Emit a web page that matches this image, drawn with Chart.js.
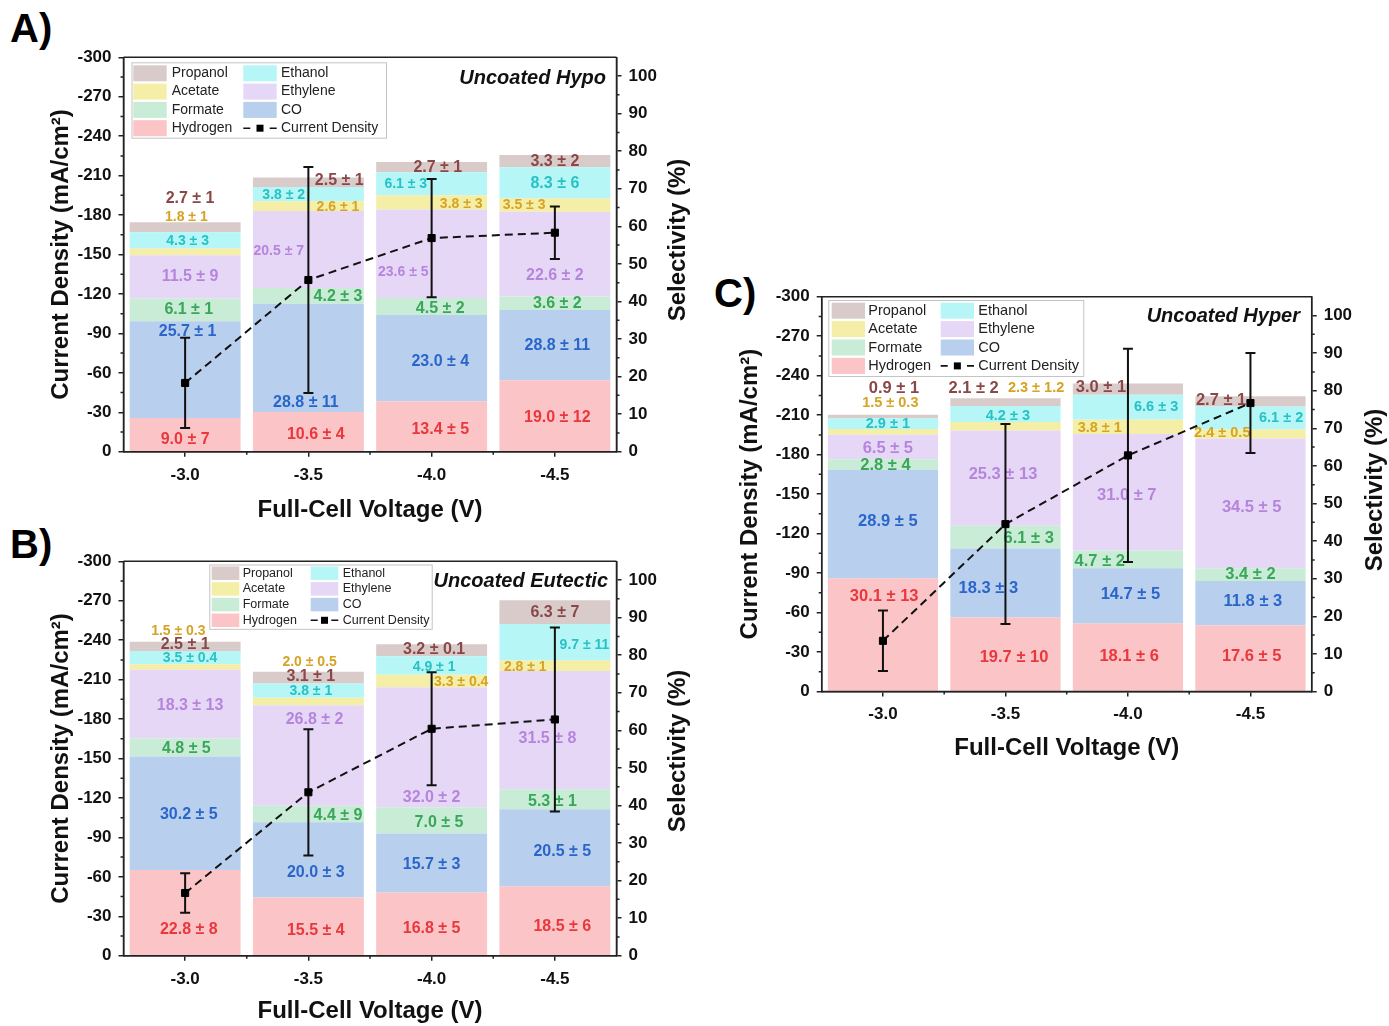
<!DOCTYPE html>
<html>
<head>
<meta charset="utf-8">
<script src="https://cdn.jsdelivr.net/npm/chart.js@4.4.0/dist/chart.umd.min.js"></script>
<style>
  body { margin: 0; background: #fff; width: 1389px; height: 1026px; position: relative; overflow: hidden; }
  .panel { position: absolute; }
  .tag { position: absolute; font: bold 40px "Liberation Sans Narrow", "Liberation Sans", Arial, sans-serif; line-height: 40px; color: #000; }
</style>
</head>
<body>
<div class="tag" style="left:10px;top:8px">A)</div>
<div class="tag" style="left:10px;top:524px">B)</div>
<div class="tag" style="left:714px;top:273px">C)</div>

<div class="panel" style="left:0;top:0"><canvas id="chartA" width="700" height="540"></canvas></div>
<div class="panel" style="left:0;top:503.5px"><canvas id="chartB" width="700" height="522"></canvas></div>
<div class="panel" style="left:700px;top:240px"><canvas id="chartC" width="689" height="540"></canvas></div>

<script>
const voltages = ['-3.0', '-3.5', '-4.0', '-4.5'];
const productNames = ['Hydrogen', 'CO', 'Formate', 'Ethylene', 'Acetate', 'Ethanol', 'Propanol'];
const currentTicks = [-300, -270, -240, -210, -180, -150, -120, -90, -60, -30, 0];
const selectivityTicks = [0, 10, 20, 30, 40, 50, 60, 70, 80, 90, 100];

// A) Uncoated Hypo - selectivity (%)
const hypoHydrogen = [9.0, 10.6, 13.4, 19.0];
const hypoCO = [25.7, 28.8, 23.0, 18.7];
const hypoFormate = [6.1, 4.2, 4.5, 3.6];
const hypoEthylene = [11.5, 20.5, 23.6, 22.6];
const hypoAcetate = [1.8, 2.6, 3.8, 3.5];
const hypoEthanol = [4.3, 3.8, 6.1, 8.3];
const hypoPropanol = [2.7, 2.5, 2.7, 3.3];
const hypoCurrent = [-52.3, -130.6, -162.5, -166.6];
const hypoCurrentErr = [34.3, 86.0, 45.0, 20.0];
const hypoHydrogenText = ['9.0 ± 7', '10.6 ± 4', '13.4 ± 5', '19.0 ± 12'];
const hypoCOText = ['25.7 ± 1', '28.8 ± 11', '23.0 ± 4', '28.8 ± 11'];
const hypoFormateText = ['6.1 ± 1', '4.2 ± 3', '4.5 ± 2', '3.6 ± 2'];
const hypoEthyleneText = ['11.5 ± 9', '20.5 ± 7', '23.6 ± 5', '22.6 ± 2'];
const hypoAcetateText = ['1.8 ± 1', '2.6 ± 1', '3.8 ± 3', '3.5 ± 3'];
const hypoEthanolText = ['4.3 ± 3', '3.8 ± 2', '6.1 ± 3', '8.3 ± 6'];
const hypoPropanolText = ['2.7 ± 1', '2.5 ± 1', '2.7 ± 1', '3.3 ± 2'];

// B) Uncoated Eutectic
const eutHydrogen = [22.8, 15.5, 16.8, 18.5];
const eutCO = [30.2, 20.0, 15.7, 20.5];
const eutFormate = [4.8, 4.4, 7.0, 5.3];
const eutEthylene = [18.3, 26.8, 32.0, 31.5];
const eutAcetate = [1.5, 2.0, 3.3, 2.8];
const eutEthanol = [3.5, 3.8, 4.9, 9.7];
const eutPropanol = [2.5, 3.1, 3.2, 6.3];
const eutCurrent = [-47.7, -124.3, -172.6, -179.7];
const eutCurrentErr = [15.0, 48.0, 43.0, 70.0];
const eutHydrogenText = ['22.8 ± 8', '15.5 ± 4', '16.8 ± 5', '18.5 ± 6'];
const eutCOText = ['30.2 ± 5', '20.0 ± 3', '15.7 ± 3', '20.5 ± 5'];
const eutFormateText = ['4.8 ± 5', '4.4 ± 9', '7.0 ± 5', '5.3 ± 1'];
const eutEthyleneText = ['18.3 ± 13', '26.8 ± 2', '32.0 ± 2', '31.5 ± 8'];
const eutAcetateText = ['1.5 ± 0.3', '2.0 ± 0.5', '3.3 ± 0.4', '2.8 ± 1'];
const eutEthanolText = ['3.5 ± 0.4', '3.8 ± 1', '4.9 ± 1', '9.7 ± 11'];
const eutPropanolText = ['2.5 ± 1', '3.1 ± 1', '3.2 ± 0.1', '6.3 ± 7'];

// C) Uncoated Hyper
const hypHydrogen = [30.1, 19.7, 18.1, 17.6];
const hypCO = [28.9, 18.3, 14.7, 11.8];
const hypFormate = [2.8, 6.1, 4.7, 3.4];
const hypEthylene = [6.5, 25.3, 31.0, 34.5];
const hypAcetate = [1.5, 2.3, 3.8, 2.4];
const hypEthanol = [2.9, 4.2, 6.6, 6.1];
const hypPropanol = [0.9, 2.1, 3.0, 2.7];
const hypCurrent = [-38.5, -127.2, -179.4, -219.2];
const hypCurrentErr = [23.0, 76.0, 81.0, 38.0];
const hypHydrogenText = ['30.1 ± 13', '19.7 ± 10', '18.1 ± 6', '17.6 ± 5'];
const hypCOText = ['28.9 ± 5', '18.3 ± 3', '14.7 ± 5', '11.8 ± 3'];
const hypFormateText = ['2.8 ± 4', '6.1 ± 3', '4.7 ± 2', '3.4 ± 2'];
const hypEthyleneText = ['6.5 ± 5', '25.3 ± 13', '31.0 ± 7', '34.5 ± 5'];
const hypAcetateText = ['1.5 ± 0.3', '2.3 ± 1.2', '3.8 ± 1', '2.4 ± 0.5'];
const hypEthanolText = ['2.9 ± 1', '4.2 ± 3', '6.6 ± 3', '6.1 ± 2'];
const hypPropanolText = ['0.9 ± 1', '2.1 ± 2', '3.0 ± 1', '2.7 ± 1'];

// colours
const fills = ['#fbc4c6', '#b9cfee', '#c9ecd6', '#e7d7f6', '#f5eea6', '#b6f6f6', '#dacbcb'];
const inks = ['#e8383d', '#2a66c9', '#3aa65a', '#b585dc', '#d6a324', '#27c2c6', '#8a4747'];
const FONT = '"Liberation Sans", Arial, sans-serif';

// label placement: [x offset in categories, height in %, big font?]
const hypoLayout = [
  [[0, 3.1, 1], [0.06, 4.6, 1], [0.07, 6.0, 1], [0.02, 9.1, 1]],
  [[0.02, 32.1, 1], [-0.02, 13.0, 1], [0.07, 24.1, 1], [0.02, 28.2, 1]],
  [[0.03, 37.7, 1], [0.24, 41.2, 1], [0.07, 38.1, 1], [0.02, 39.5, 1]],
  [[0.04, 46.5, 1], [-0.24, 53.4, 0], [-0.23, 47.9, 0], [0, 46.8, 1]],
  [[0.01, 62.5, 0], [0.24, 65.0, 0], [0.24, 65.9, 0], [-0.25, 65.6, 0]],
  [[0.02, 56.0, 0], [-0.2, 68.3, 0], [-0.21, 71.1, 0], [0, 71.5, 1]],
  [[0.04, 67.4, 1], [0.25, 72.2, 1], [0.05, 75.7, 1], [0, 77.3, 1]]
];
const eutLayout = [
  [[0.03, 6.9, 1], [0.06, 6.7, 1], [0, 7.3, 1], [0.06, 7.8, 1]],
  [[0.03, 37.5, 1], [0.06, 22.0, 1], [0, 24.3, 1], [0.06, 27.7, 1]],
  [[0.01, 55.2, 1], [0.24, 37.3, 1], [0.06, 35.5, 1], [-0.02, 41.1, 1]],
  [[0.04, 66.7, 1], [0.05, 62.8, 1], [0, 42.2, 1], [-0.06, 57.7, 1]],
  [[-0.055, 86.3, 0], [0.01, 78.2, 0], [0.24, 72.7, 0], [-0.24, 76.9, 0]],
  [[0.04, 79.2, 0], [0.02, 70.3, 0], [0.02, 76.9, 0], [0.24, 82.7, 0]],
  [[0, 82.7, 1], [0.02, 74.3, 1], [0.02, 81.4, 1], [0, 91.4, 1]]
];
const hypLayout = [
  [[0.01, 25.2, 1], [0.07, 9.0, 1], [0.01, 9.4, 1], [0.01, 9.4, 1]],
  [[0.04, 45.2, 1], [-0.14, 27.4, 1], [0.02, 25.7, 1], [0.02, 23.9, 1]],
  [[0.02, 60.1, 1], [0.19, 40.7, 1], [-0.23, 34.5, 1], [0, 31.2, 1]],
  [[0.04, 64.7, 1], [-0.02, 57.6, 1], [-0.01, 52.1, 1], [0.01, 49.0, 1]],
  [[0.06, 76.8, 0], [0.25, 80.6, 0], [-0.23, 70.2, 0], [-0.23, 68.7, 0]],
  [[0.04, 71.1, 0], [0.02, 73.4, 0], [0.23, 75.7, 0], [0.25, 72.7, 0]],
  [[0.09, 80.6, 1], [-0.26, 80.6, 1], [-0.22, 80.8, 1], [-0.24, 77.5, 1]]
];

const panels = [
  {
    id: 'chartA', name: 'Uncoated Hypo',
    sel: [hypoHydrogen, hypoCO, hypoFormate, hypoEthylene, hypoAcetate, hypoEthanol, hypoPropanol],
    text: [hypoHydrogenText, hypoCOText, hypoFormateText, hypoEthyleneText, hypoAcetateText, hypoEthanolText, hypoPropanolText],
    cd: hypoCurrent, cdErr: hypoCurrentErr, layout: hypoLayout,
    w: 700, h: 540, area: { l: 123.5, r: 616.5, t: 57.3, b: 451.7 },
    yTitlePad: 46.6, xTitlePad: 15.6, rTitle: [678, 240],
    big: 16, small: 14,
    titlePos: [606, 78],
    legend: { x: 131.5, y: 62.3, w: 254.5, h: 75.4, row0: 11, rowH: 18.3, sw: 33.4, sh: 16, c1: 133.3, t1: 171.7, c2: 243.3, t2: 281, fs: 14 }
  },
  {
    id: 'chartB', name: 'Uncoated Eutectic',
    sel: [eutHydrogen, eutCO, eutFormate, eutEthylene, eutAcetate, eutEthanol, eutPropanol],
    text: [eutHydrogenText, eutCOText, eutFormateText, eutEthyleneText, eutAcetateText, eutEthanolText, eutPropanolText],
    cd: eutCurrent, cdErr: eutCurrentErr, layout: eutLayout,
    w: 700, h: 522, area: { l: 123.5, r: 616.5, t: 57.3, b: 451.7 },
    yTitlePad: 46.6, xTitlePad: 0, rTitle: [678, 247],
    big: 16, small: 14,
    titlePos: [608, 77],
    legend: { x: 209.3, y: 60.5, w: 222.4, h: 64.3, row0: 8.7, rowH: 15.7, sw: 27.6, sh: 13.5, c1: 211.7, t1: 242.7, c2: 310.7, t2: 342.7, fs: 12.5 }
  },
  {
    id: 'chartC', name: 'Uncoated Hyper',
    sel: [hypHydrogen, hypCO, hypFormate, hypEthylene, hypAcetate, hypEthanol, hypPropanol],
    text: [hypHydrogenText, hypCOText, hypFormateText, hypEthyleneText, hypAcetateText, hypEthanolText, hypPropanolText],
    cd: hypCurrent, cdErr: hypCurrentErr, layout: hypLayout,
    w: 689, h: 540, area: { l: 121.7, r: 611.7, t: 56.7, b: 451.5 },
    yTitlePad: 35.6, xTitlePad: 17.6, rTitle: [675, 250],
    big: 16.5, small: 14.5,
    titlePos: [600, 76],
    legend: { x: 128.3, y: 60, w: 255, h: 76, row0: 10.7, rowH: 18.4, sw: 33.3, sh: 16, c1: 131.7, t1: 168.3, c2: 240.7, t2: 278.3, fs: 14.5 }
  }
];

function drawLegend(ctx, L) {
  ctx.save();
  ctx.fillStyle = '#fff';
  ctx.fillRect(L.x, L.y, L.w, L.h);
  ctx.strokeStyle = '#c4c4c4';
  ctx.lineWidth = 1;
  ctx.strokeRect(L.x + 0.5, L.y + 0.5, L.w, L.h);
  const col1 = [6, 4, 2, 0];
  const col2 = [5, 3, 1, -1];
  ctx.font = L.fs + 'px ' + FONT;
  ctx.textBaseline = 'middle';
  ctx.textAlign = 'left';
  for (let r = 0; r < 4; r++) {
    const cy = L.y + L.row0 + r * L.rowH;
    const a = col1[r];
    ctx.fillStyle = fills[a];
    ctx.fillRect(L.c1, cy - L.sh / 2, L.sw, L.sh);
    ctx.fillStyle = '#222';
    ctx.fillText(productNames[a], L.t1, cy);
    const b = col2[r];
    if (b >= 0) {
      ctx.fillStyle = fills[b];
      ctx.fillRect(L.c2, cy - L.sh / 2, L.sw, L.sh);
      ctx.fillStyle = '#222';
      ctx.fillText(productNames[b], L.t2, cy);
    } else {
      const x0 = L.c2, x1 = L.c2 + L.sw, mid = (x0 + x1) / 2;
      ctx.strokeStyle = '#111';
      ctx.lineWidth = 1.6;
      ctx.beginPath();
      ctx.moveTo(x0, cy); ctx.lineTo(x0 + 7, cy);
      ctx.moveTo(x1 - 7, cy); ctx.lineTo(x1, cy);
      ctx.stroke();
      ctx.fillStyle = '#000';
      ctx.fillRect(mid - 3.5, cy - 3.5, 7, 7);
      ctx.fillStyle = '#222';
      ctx.fillText('Current Density', L.t2, cy);
    }
  }
  ctx.restore();
}

function decorPlugin(p) {
  return {
    id: 'decor',
    beforeDatasetDraw(chart, args) {
      if (args.meta.type !== 'line') return;
      const ctx = chart.ctx;
      const x = chart.scales.x, ys = chart.scales.ySel, yc = chart.scales.yCD;
      const step = x.getPixelForValue(1) - x.getPixelForValue(0);
      ctx.save();
      ctx.textAlign = 'center';
      ctx.textBaseline = 'middle';
      p.text.forEach((arr, s) => {
        ctx.fillStyle = inks[s];
        arr.forEach((t, i) => {
          const pos = p.layout[s][i];
          ctx.font = 'bold ' + (pos[2] ? p.big : p.small) + 'px ' + FONT;
          ctx.fillText(t, x.getPixelForValue(i) + pos[0] * step, ys.getPixelForValue(pos[1]));
        });
      });
      // error bars
      ctx.strokeStyle = '#111';
      ctx.lineWidth = 2;
      p.cd.forEach((v, i) => {
        const px = x.getPixelForValue(i);
        const y1 = yc.getPixelForValue(v - p.cdErr[i]);
        const y2 = yc.getPixelForValue(v + p.cdErr[i]);
        ctx.beginPath();
        ctx.moveTo(px, y1); ctx.lineTo(px, y2);
        ctx.moveTo(px - 5, y1); ctx.lineTo(px + 5, y1);
        ctx.moveTo(px - 5, y2); ctx.lineTo(px + 5, y2);
        ctx.stroke();
      });
      ctx.restore();
    },
    afterDraw(chart) {
      const ctx = chart.ctx;
      const a = chart.chartArea;
      const x = chart.scales.x, ys = chart.scales.ySel, yc = chart.scales.yCD;
      ctx.save();
      ctx.strokeStyle = '#222';
      ctx.lineWidth = 1.5;
      ctx.beginPath();
      ctx.moveTo(a.left, a.top); ctx.lineTo(a.right, a.top);
      ctx.moveTo(a.left, a.top); ctx.lineTo(a.left, a.bottom);
      ctx.moveTo(a.right, a.top); ctx.lineTo(a.right, a.bottom);
      ctx.moveTo(a.left, a.bottom); ctx.lineTo(a.right, a.bottom);
      // minor ticks
      for (let v = -285; v < 0; v += 30) {
        const y = yc.getPixelForValue(v);
        ctx.moveTo(a.left - 3, y); ctx.lineTo(a.left, y);
      }
      for (let v = 5; v < 100; v += 10) {
        const y = ys.getPixelForValue(v);
        ctx.moveTo(a.right, y); ctx.lineTo(a.right + 3, y);
      }
      for (let i = 0; i < voltages.length - 1; i++) {
        const px = (x.getPixelForValue(i) + x.getPixelForValue(i + 1)) / 2;
        ctx.moveTo(px, a.bottom); ctx.lineTo(px, a.bottom + 3);
      }
      ctx.stroke();
      ctx.restore();
      drawLegend(ctx, p.legend);
      ctx.save();
      ctx.font = 'italic bold 20px ' + FONT;
      ctx.fillStyle = '#111';
      ctx.textAlign = 'right';
      ctx.textBaseline = 'middle';
      ctx.fillText(p.name, p.titlePos[0], p.titlePos[1]);
      // right axis title, reading bottom to top
      ctx.translate(p.rTitle[0], p.rTitle[1]);
      ctx.rotate(-Math.PI / 2);
      ctx.textAlign = 'center';
      ctx.font = 'bold 24px ' + FONT;
      ctx.fillText('Selectivity (%)', 0, 0);
      ctx.restore();
    }
  };
}

Chart.defaults.font.family = FONT;

panels.forEach(p => {
  const tickFont = { family: FONT, size: 17, weight: 'bold' };
  const titleFont = { family: FONT, size: 24, weight: 'bold' };
  const tickGrid = { display: true, drawOnChartArea: false, drawTicks: true, tickLength: 5, color: '#222', lineWidth: 1.5 };
  const datasets = p.sel.map((vals, s) => ({
    type: 'bar',
    label: productNames[s],
    data: vals,
    backgroundColor: fills[s],
    borderWidth: 0,
    yAxisID: 'ySel',
    barPercentage: 0.9,
    categoryPercentage: 1.0,
    order: 1
  }));
  datasets.push({
    type: 'line',
    label: 'Current Density',
    data: p.cd,
    yAxisID: 'yCD',
    borderColor: '#111',
    borderWidth: 2,
    borderDash: [8, 5],
    pointStyle: 'rect',
    pointRadius: 5,
    pointBorderWidth: 1,
    pointBackgroundColor: '#000',
    pointBorderColor: '#000',
    tension: 0,
    order: 0
  });

  new Chart(document.getElementById(p.id), {
    data: { labels: voltages, datasets },
    options: {
      responsive: false,
      animation: false,
      layout: { padding: { top: p.area.t, left: 0, right: 0, bottom: 0 } },
      plugins: { legend: { display: false }, tooltip: { enabled: false } },
      scales: {
        x: {
          stacked: true,
          offset: true,
          grid: Object.assign({}, tickGrid, { offset: false }),
          border: { display: true, color: '#222', width: 1.5 },
          ticks: { color: '#111', font: tickFont, padding: 8, maxRotation: 0 },
          title: { display: true, text: 'Full-Cell Voltage (V)', color: '#111', font: titleFont, padding: { top: 0, bottom: p.xTitlePad } },
          afterFit: s => { s.height = p.h - p.area.b; }
        },
        yCD: {
          position: 'left',
          reverse: true,
          min: -300,
          max: 0,
          grid: tickGrid,
          border: { display: true, color: '#222', width: 1.5 },
          ticks: { color: '#111', font: tickFont, padding: 7 },
          afterBuildTicks: s => { s.ticks = currentTicks.map(v => ({ value: v })); },
          title: { display: true, text: 'Current Density (mA/cm²)', color: '#111', font: titleFont, padding: { top: p.yTitlePad, bottom: 0 } },
          afterFit: s => { s.width = p.area.l; }
        },
        ySel: {
          position: 'right',
          stacked: true,
          min: 0,
          max: 105,
          grid: tickGrid,
          border: { display: true, color: '#222', width: 1.5 },
          ticks: { color: '#111', font: tickFont, padding: 7 },
          afterBuildTicks: s => { s.ticks = selectivityTicks.map(v => ({ value: v })); },
          title: { display: false },
          afterFit: s => { s.width = p.w - p.area.r; }
        }
      }
    },
    plugins: [decorPlugin(p)]
  });
});
</script>
</body>
</html>
